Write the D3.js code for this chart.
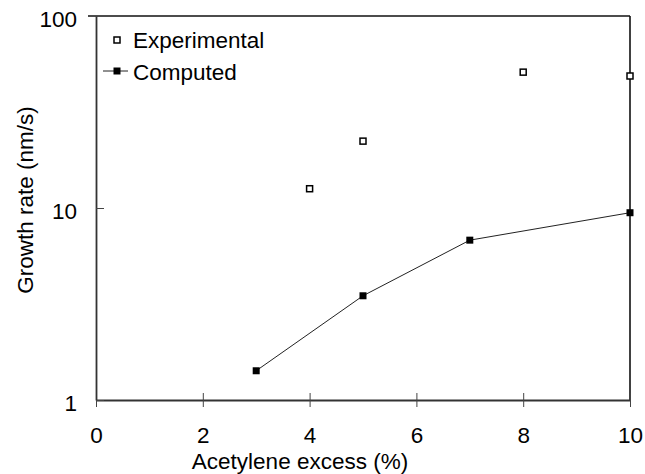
<!DOCTYPE html>
<html>
<head>
<meta charset="utf-8">
<script src="https://cdn.jsdelivr.net/npm/d3@7"></script>
<style>
  body { margin: 0; background: #fff; }
  text { font-family: "Liberation Sans", Arial, sans-serif; fill: #000; }
</style>
</head>
<body>
<div id="chart"></div>
<script>
// data
var expX = [4, 5, 8, 10];
var expY = [12.6, 22.3, 51, 48.7];
var compX = [3, 5, 7, 10];
var compY = [1.42, 3.49, 6.8, 9.45];
var xTicks = [0, 2, 4, 6, 8, 10];
var yTicks = [1, 10, 100];

var width = 645,
    height = 474;
var pLeft = 96, pRight = 630, pTop = 16, pBottom = 400;
var fs = '22.5px';

var svg = d3.select('#chart')
    .append('svg')
    .attr('width', width)
    .attr('height', height);

var x = d3.scaleLinear().domain([0, 10]).range([pLeft, pRight]);
var y = d3.scaleLog().domain([1, 100]).range([pBottom, pTop]);

// frame: top and right lines
svg.append('line')
    .attr('x1', pLeft - 8).attr('x2', pRight)
    .attr('y1', pTop).attr('y2', pTop)
    .attr('stroke', '#111').attr('stroke-width', 1.6);
svg.append('line')
    .attr('x1', pRight).attr('x2', pRight)
    .attr('y1', pTop).attr('y2', pBottom)
    .attr('stroke', '#111').attr('stroke-width', 1.6);

// x axis
var xAxis = svg.append('g')
    .attr('transform', 'translate(0,' + pBottom + ')')
    .call(d3.axisBottom(x).tickValues(xTicks).tickSizeInner(7).tickSizeOuter(0).tickPadding(20));
xAxis.select('.domain').attr('stroke', '#333').attr('stroke-width', 1.8);
xAxis.selectAll('.tick line').attr('y1', -7).attr('stroke', '#444').attr('stroke-width', 1);
xAxis.selectAll('text')
    .style('font-size', fs)
    .style('font-family', '"Liberation Sans", Arial, sans-serif')
    .attr('fill', '#000');

// y axis
var yAxis = svg.append('g')
    .attr('transform', 'translate(' + pLeft + ',0)')
    .call(d3.axisLeft(y).tickValues(yTicks).tickFormat(d3.format('d')).tickSizeInner(8).tickSizeOuter(0).tickPadding(11));
yAxis.select('.domain').attr('stroke', '#333').attr('stroke-width', 1.8);
yAxis.selectAll('.tick line').attr('x2', 8).attr('stroke', '#444').attr('stroke-width', 1);
yAxis.selectAll('.tick').filter(function (d) { return d === 100; }).select('line').attr('x2', 0);
yAxis.selectAll('text')
    .style('font-size', fs)
    .style('font-family', '"Liberation Sans", Arial, sans-serif')
    .attr('fill', '#000')
    .attr('dy', '0.45em');

// axis titles
svg.append('text')
    .attr('x', 300).attr('y', 469)
    .attr('text-anchor', 'middle')
    .style('font-size', fs)
    .text('Acetylene excess (%)');
svg.append('text')
    .attr('transform', 'translate(33,200) rotate(-90)')
    .attr('text-anchor', 'middle')
    .style('font-size', fs)
    .text('Growth rate (nm/s)');

// computed line
var comp = compX.map(function (d, i) { return { x: d, y: compY[i] }; });
var exp = expX.map(function (d, i) { return { x: d, y: expY[i] }; });

var line = d3.line()
    .x(function (d) { return x(d.x); })
    .y(function (d) { return y(d.y); });

svg.append('path')
    .datum(comp)
    .attr('d', line)
    .attr('fill', 'none')
    .attr('stroke', '#222')
    .attr('stroke-width', 1);

svg.selectAll('.comp')
    .data(comp)
    .enter()
    .append('rect')
    .attr('class', 'comp')
    .attr('x', function (d) { return x(d.x) - 3.5; })
    .attr('y', function (d) { return y(d.y) - 3.5; })
    .attr('width', 7).attr('height', 7)
    .attr('fill', '#000');

svg.selectAll('.exp')
    .data(exp)
    .enter()
    .append('rect')
    .attr('class', 'exp')
    .attr('x', function (d) { return x(d.x) - 3; })
    .attr('y', function (d) { return y(d.y) - 3; })
    .attr('width', 6).attr('height', 6)
    .attr('fill', '#fff')
    .attr('stroke', '#000')
    .attr('stroke-width', 1.5);

// legend
var lg = svg.append('g');
lg.append('rect')
    .attr('x', 114).attr('y', 37).attr('width', 6).attr('height', 6)
    .attr('fill', '#fff').attr('stroke', '#000').attr('stroke-width', 1.5);
lg.append('text')
    .attr('x', 133).attr('y', 48)
    .style('font-size', fs)
    .text('Experimental');
lg.append('line')
    .attr('x1', 103).attr('x2', 128).attr('y1', 71).attr('y2', 71)
    .attr('stroke', '#222').attr('stroke-width', 1);
lg.append('rect')
    .attr('x', 113.5).attr('y', 67.5).attr('width', 7).attr('height', 7)
    .attr('fill', '#000');
lg.append('text')
    .attr('x', 133).attr('y', 80)
    .style('font-size', fs)
    .text('Computed');
</script>
</body>
</html>
